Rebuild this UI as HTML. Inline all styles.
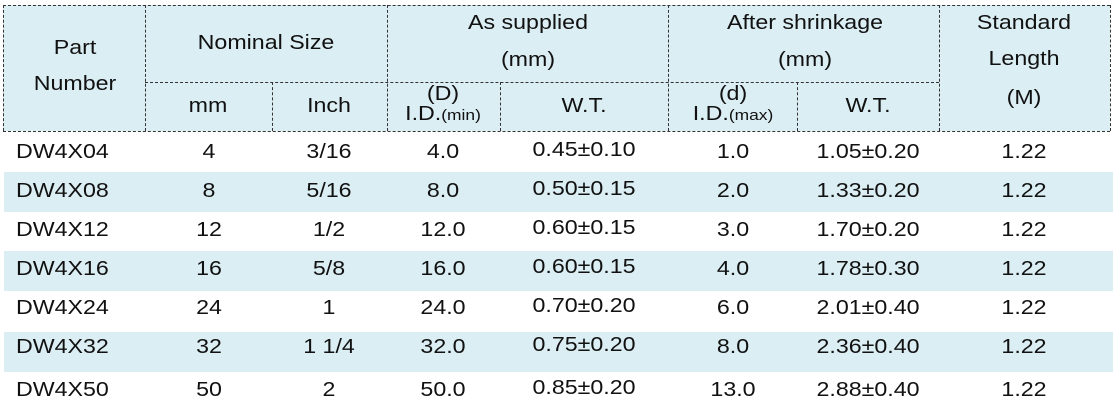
<!DOCTYPE html>
<html><head><meta charset="utf-8"><style>
body{margin:0;width:1113px;height:408px;background:#fff;position:relative;overflow:hidden;font-family:"Liberation Sans",Arial,sans-serif;color:#111;font-size:20px}
.a{position:absolute;transform:scaleX(1.16);transform-origin:left center}
.hd{position:absolute;left:3px;top:5px;width:1107px;height:126px;background:#dbeef4}
.v{position:absolute;border-left:1px dashed #333;width:0}
.h{position:absolute;border-top:1px dashed #333;height:0}
.s{position:absolute;left:4px;width:1109px;height:40px;background:#dbeef4}
.c{position:absolute;text-align:center;transform:translateX(-50%) scaleX(1.16);white-space:nowrap}
.sm{font-size:15px}
</style></head><body>
<div class="hd"></div>
<div class="s" style="top:172px"></div>
<div class="s" style="top:251px"></div>
<div class="s" style="top:332px"></div>
<div class="h" style="left:3px;top:5px;width:1107px"></div>
<div class="h" style="left:3px;top:131px;width:1107px"></div>
<div class="h" style="left:145px;top:82px;width:794px"></div>
<div class="v" style="left:3px;top:5px;height:126px"></div>
<div class="v" style="left:145px;top:5px;height:126px"></div>
<div class="v" style="left:272px;top:82px;height:49px"></div>
<div class="v" style="left:387px;top:5px;height:126px"></div>
<div class="v" style="left:500px;top:82px;height:49px"></div>
<div class="v" style="left:668px;top:5px;height:126px"></div>
<div class="v" style="left:797px;top:82px;height:49px"></div>
<div class="v" style="left:939px;top:5px;height:126px"></div>
<div class="v" style="left:1110px;top:5px;height:126px"></div>
<div class="c" style="left:75px;top:37px">Part</div>
<div class="c" style="left:75px;top:73px">Number</div>
<div class="c" style="left:266px;top:32px">Nominal Size</div>
<div class="c" style="left:528px;top:12px">As supplied</div>
<div class="c" style="left:528px;top:49px">(mm)</div>
<div class="c" style="left:805px;top:12px">After shrinkage</div>
<div class="c" style="left:805px;top:49px">(mm)</div>
<div class="c" style="left:1024px;top:12px">Standard</div>
<div class="c" style="left:1024px;top:48px">Length</div>
<div class="c" style="left:1024px;top:87px">(M)</div>
<div class="c" style="left:208px;top:95px">mm</div>
<div class="c" style="left:329px;top:95px">Inch</div>
<div class="c" style="left:443px;top:84px;line-height:20px">(D)<br>I.D.<span class="sm">(min)</span></div>
<div class="c" style="left:584px;top:95px">W.T.</div>
<div class="c" style="left:733px;top:84px;line-height:20px">(d)<br>I.D.<span class="sm">(max)</span></div>
<div class="c" style="left:868px;top:95px">W.T.</div>

<div class="a" style="left:16px;top:141px">DW4X04</div>
<div class="a" style="left:16px;top:180px">DW4X08</div>
<div class="a" style="left:16px;top:219px">DW4X12</div>
<div class="a" style="left:16px;top:258px">DW4X16</div>
<div class="a" style="left:16px;top:297px">DW4X24</div>
<div class="a" style="left:16px;top:336px">DW4X32</div>
<div class="a" style="left:16px;top:379px">DW4X50</div>

<div class="c" style="left:209px;top:141px">4</div>
<div class="c" style="left:209px;top:180px">8</div>
<div class="c" style="left:209px;top:219px">12</div>
<div class="c" style="left:209px;top:258px">16</div>
<div class="c" style="left:209px;top:297px">24</div>
<div class="c" style="left:209px;top:336px">32</div>
<div class="c" style="left:209px;top:379px">50</div>

<div class="c" style="left:329px;top:141px">3/16</div>
<div class="c" style="left:329px;top:180px">5/16</div>
<div class="c" style="left:329px;top:219px">1/2</div>
<div class="c" style="left:329px;top:258px">5/8</div>
<div class="c" style="left:329px;top:297px">1</div>
<div class="c" style="left:329px;top:336px">1 1/4</div>
<div class="c" style="left:329px;top:379px">2</div>

<div class="c" style="left:443px;top:141px">4.0</div>
<div class="c" style="left:443px;top:180px">8.0</div>
<div class="c" style="left:443px;top:219px">12.0</div>
<div class="c" style="left:443px;top:258px">16.0</div>
<div class="c" style="left:443px;top:297px">24.0</div>
<div class="c" style="left:443px;top:336px">32.0</div>
<div class="c" style="left:443px;top:379px">50.0</div>

<div class="c" style="left:584px;top:139px">0.45±0.10</div>
<div class="c" style="left:584px;top:178px">0.50±0.15</div>
<div class="c" style="left:584px;top:217px">0.60±0.15</div>
<div class="c" style="left:584px;top:256px">0.60±0.15</div>
<div class="c" style="left:584px;top:295px">0.70±0.20</div>
<div class="c" style="left:584px;top:334px">0.75±0.20</div>
<div class="c" style="left:584px;top:377px">0.85±0.20</div>

<div class="c" style="left:733px;top:141px">1.0</div>
<div class="c" style="left:733px;top:180px">2.0</div>
<div class="c" style="left:733px;top:219px">3.0</div>
<div class="c" style="left:733px;top:258px">4.0</div>
<div class="c" style="left:733px;top:297px">6.0</div>
<div class="c" style="left:733px;top:336px">8.0</div>
<div class="c" style="left:733px;top:379px">13.0</div>

<div class="c" style="left:868px;top:141px">1.05±0.20</div>
<div class="c" style="left:868px;top:180px">1.33±0.20</div>
<div class="c" style="left:868px;top:219px">1.70±0.20</div>
<div class="c" style="left:868px;top:258px">1.78±0.30</div>
<div class="c" style="left:868px;top:297px">2.01±0.40</div>
<div class="c" style="left:868px;top:336px">2.36±0.40</div>
<div class="c" style="left:868px;top:379px">2.88±0.40</div>

<div class="c" style="left:1024px;top:141px">1.22</div>
<div class="c" style="left:1024px;top:180px">1.22</div>
<div class="c" style="left:1024px;top:219px">1.22</div>
<div class="c" style="left:1024px;top:258px">1.22</div>
<div class="c" style="left:1024px;top:297px">1.22</div>
<div class="c" style="left:1024px;top:336px">1.22</div>
<div class="c" style="left:1024px;top:379px">1.22</div>
</body></html>
